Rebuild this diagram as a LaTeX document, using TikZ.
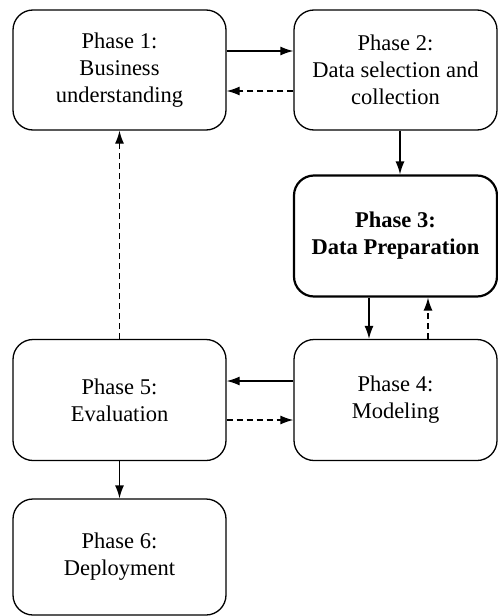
\documentclass[tikz,border=0pt]{standalone}
\usepackage{fontspec}
\setmainfont{Liberation Serif}
\usetikzlibrary{arrows.meta}
\usetikzlibrary{positioning}

\tikzset{
  phase/.style={draw, rounded corners=20pt, line width=1.3pt, align=center,
    inner sep=0pt, font=\fontsize{22.5}{27}\selectfont},
  flow/.style={-{Latex[length=13pt,width=9pt]}, line width=1.3pt},
  back/.style={flow, dash pattern=on 6pt off 4pt},
}

\begin{document}
\begin{tikzpicture}[x=1pt, y=1pt]
    \useasboundingbox (0,0) rectangle (498,-616);

    % left column
    \node [phase, minimum width=213pt, minimum height=120pt] (p1) at (119.5,-70)
      {Phase 1:\\Business\\understanding};
    \node [phase, minimum width=213pt, minimum height=121pt] (p5) at (119.5,-400)
      {Phase 5:\\Evaluation};
    \node [phase, minimum width=213pt, minimum height=116pt] (p6) at (119.5,-557)
      {Phase 6:\\Deployment};

    % right column
    \node [phase, minimum width=203pt, minimum height=120pt] (p2) at (395.5,-70)
      {Phase 2:\\Data selection and\\collection};
    \node [phase, line width=2.2pt, minimum width=203pt, minimum height=121pt,
      font=\fontsize{22.5}{27}\selectfont\bfseries] (p3) at (395.5,-236)
      {Phase 3:\\Data Preparation};
    \node [phase, minimum width=203pt, minimum height=121pt] (p4) at (395.5,-400)
      {Phase 4:\\Modeling};

    \draw [flow] ([yshift=19pt]p1.east) -- ([yshift=19pt]p2.west);
    \draw [back] ([yshift=-21pt]p2.west) -- ([yshift=-21pt]p1.east);
    \draw [flow] ([xshift=4.5pt]p2.south) -- ([xshift=4.5pt]p3.north);
    \draw [flow] ([xshift=-26.5pt]p3.south) -- ([xshift=-26.5pt]p4.north);
    \draw [back] ([xshift=32.5pt]p4.north) -- ([xshift=32.5pt]p3.south);
    \draw [flow] ([yshift=19pt]p4.west) -- ([yshift=19pt]p5.east);
    \draw [back] ([yshift=-20pt]p5.east) -- ([yshift=-20pt]p4.west);
    \draw [back] (p5.north) -- (p1.south);
    \draw [flow] (p5.south) -- (p6.north);
  \end{tikzpicture}
\end{document}
